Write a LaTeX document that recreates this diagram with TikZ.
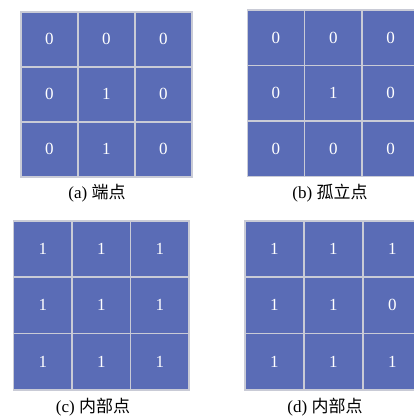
\documentclass[tikz,border=0pt]{standalone}
\usepackage{fontspec}
\setmainfont{Liberation Serif}
\newfontfamily\cjk{Noto Sans CJK SC}
\definecolor{cellblue}{HTML}{5A6CB6}
\definecolor{gridgray}{HTML}{C9CBD6}
\tikzset{
  cell/.style={draw=gridgray, line width=1.6pt, fill=cellblue, text=white,
    font=\fontsize{17}{17}\selectfont, inner sep=0pt, anchor=north west},
  caption/.style={font=\fontsize{17}{20}\selectfont, text=black, inner sep=0pt}
}
% #1 name prefix, #2 left x, #3 top y, #4 cell width, #5 cell height, #6 nine values
\newcommand{\cellgrid}[6]{%
  \foreach \v [count=\i from 0] in {#6} {
    \pgfmathtruncatemacro{\c}{mod(\i,3)}
    \pgfmathtruncatemacro{\r}{div(\i,3)}
    \node[cell, minimum width=#4pt, minimum height=#5pt]
      (#1-\r-\c) at ({#2+\c*#4}, {#3+\r*#5}) {\v};
  }%
}
\begin{document}
\begin{tikzpicture}[x=1pt, y=-1pt]
  \useasboundingbox (0,0) rectangle (414,418);
  \clip (0,0) rectangle (414,418);
  \fill[white] (0,0) rectangle (414,418);

  % (a) end point
  \cellgrid{a}{20}{11}{57}{55}{0,0,0,0,1,0,0,1,0}
  \node[caption] (capa) at (97,193) {(a) {\cjk 端点}};

  % (b) isolated point
  \cellgrid{b}{246.5}{9}{57.3}{55.5}{0,0,0,0,1,0,0,0,0}
  \node[caption] (capb) at (330,193) {(b) {\cjk 孤立点}};

  % (c) interior point
  \cellgrid{c}{12.7}{220}{58.5}{56.3}{1,1,1,1,1,1,1,1,1}
  \node[caption] (capc) at (93,407) {(c) {\cjk 内部点}};

  % (d) interior point
  \cellgrid{d}{244}{220}{59}{56.3}{1,1,1,1,1,0,1,1,1}
  \node[caption] (capd) at (325,407) {(d) {\cjk 内部点}};
\end{tikzpicture}
\end{document}
